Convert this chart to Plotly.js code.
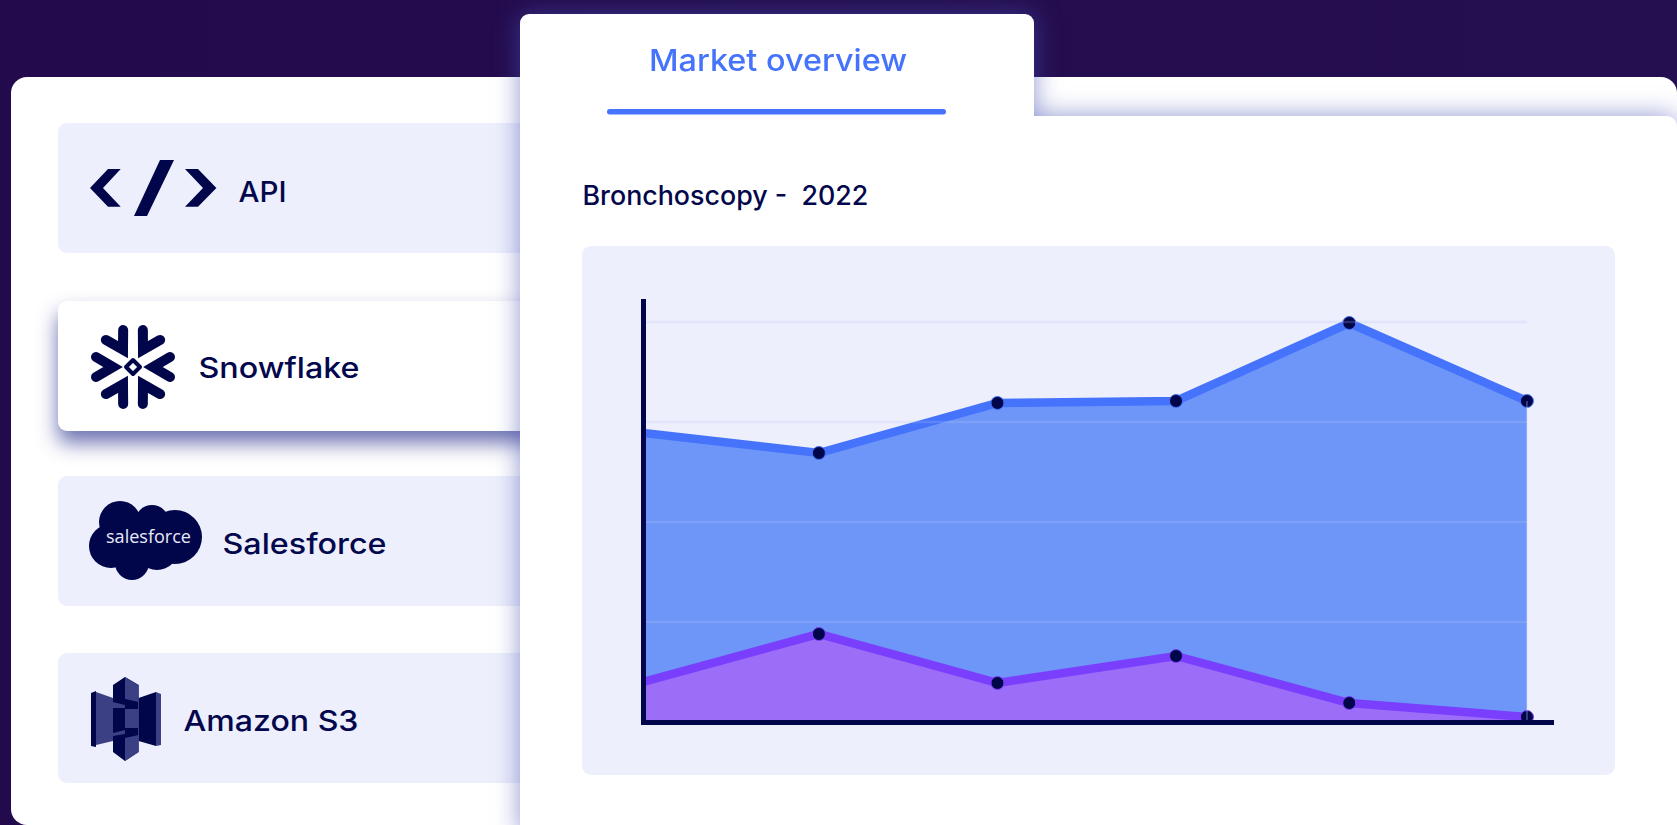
<!DOCTYPE html>
<html><head><meta charset="utf-8">
<script src="https://cdn.plot.ly/plotly-3.0.0.min.js"></script>
<style>
html,body{margin:0;padding:0;width:1677px;height:825px;overflow:hidden;font-family:Inter,sans-serif}
html{background:linear-gradient(90deg,#220a4d,#260f50)}
#page{position:absolute;left:0;top:0;width:1677px;height:825px;filter:blur(.4px)}
.abs{position:absolute}
.row{position:absolute;left:58px;width:560px;height:130px;border-radius:9px;background:#edeffc}
svg text{font-family:Inter,sans-serif;font-weight:500;fill:#03074c}
</style></head><body><div id="page">
<div class="abs" style="left:11px;top:76.5px;width:1666px;height:748.5px;background:#fff;border-radius:16px"></div>
<div class="row" style="top:123px"></div>
<div class="row" style="top:301px;background:#fff;box-shadow:0 12px 20px rgba(40,48,140,.68)"></div>
<div class="row" style="top:476px"></div>
<div class="row" style="top:653px"></div>
<svg class="abs" style="left:0;top:0" width="1677" height="825" viewBox="0 0 1677 825">
  <g fill="#01054a">
    <polygon points="90,188 108,169 120.7,169 103,188 120.7,206.7 108,206.7"/>
    <polygon points="160,160 174,160 147,216 134,216"/>
    <polygon points="185,169 198,169 216.4,188 198,206.7 185,206.7 203,188"/>
  </g>
  <text x="238.5" y="201.7" font-size="29" textLength="48" lengthAdjust="spacingAndGlyphs">API</text>
  <g fill="none" stroke="#01054a" stroke-width="10" stroke-linecap="round" stroke-linejoin="miter">
    <path d="M96 357 L113 367 L96 377"/>
    <path transform="rotate(60 133 367)" d="M96 357 L113 367 L96 377"/>
    <path transform="rotate(120 133 367)" d="M96 357 L113 367 L96 377"/>
    <path transform="rotate(180 133 367)" d="M96 357 L113 367 L96 377"/>
    <path transform="rotate(240 133 367)" d="M96 357 L113 367 L96 377"/>
    <path transform="rotate(300 133 367)" d="M96 357 L113 367 L96 377"/>
  </g>
  <polygon points="133,360 140,367 133,374 126,367" fill="#fff" stroke="#01054a" stroke-width="4" stroke-linejoin="round"/>
  <text x="198.5" y="377.7" font-size="29" textLength="161" lengthAdjust="spacingAndGlyphs">Snowflake</text>
  <g fill="#01054a">
    <circle cx="120" cy="522" r="21"/><circle cx="152" cy="522" r="17"/><circle cx="175" cy="537" r="27"/>
    <circle cx="111" cy="546" r="22"/><circle cx="132" cy="563" r="17"/><circle cx="157" cy="548" r="22"/>
    <rect x="110" y="520" width="60" height="40"/>
  </g>
  <text x="106" y="543" font-size="19" textLength="85" lengthAdjust="spacingAndGlyphs" style="font-family:'Open Sans';font-weight:400;fill:#e8eaf8">salesforce</text>
  <text x="222.5" y="554" font-size="29" textLength="164" lengthAdjust="spacingAndGlyphs">Salesforce</text>
  <g fill="#01054a">
    <polygon points="113,685 125,677 138.6,685 138.6,752 125,761 113,752"/>
    <polygon points="91,693 96,691 96,747 91,746"/>
    <polygon points="138.6,698 156,692 156,746 138.6,741"/>
  </g>
  <g fill="#3a4083">
    <polygon points="96,692 113,698 113,741 96,745"/>
    <polygon points="156,692 161,694 161,745 156,746"/>
    <polygon points="125,677 138.6,685 138.6,702 125,699"/>
    <polygon points="113,702 125,705 125,708 113,708"/>
    <polygon points="125,709 138.6,709 138.6,728 125,728"/>
    <polygon points="113,733 125,730 125,734 113,736"/>
    <polygon points="125,738 138.6,735 138.6,752 125,761"/>
  </g>
  <text x="183.5" y="731" font-size="29" textLength="175" lengthAdjust="spacingAndGlyphs">Amazon S3</text>
</svg>
<div class="abs" style="left:0;top:0;width:1677px;height:825px;filter:drop-shadow(0 0 13px rgba(70,80,180,.6))">
  <div class="abs" style="left:519.5px;top:14px;width:514px;height:200px;background:#fff;border-radius:9px"></div>
  <div class="abs" style="left:519.5px;top:116px;width:1157.5px;height:720px;background:#fff;border-radius:10px"></div>
</div>
<svg class="abs" style="left:0;top:0" width="1677" height="825" viewBox="0 0 1677 825">
  <text x="649" y="71" font-size="30" textLength="258" lengthAdjust="spacingAndGlyphs" style="fill:#4573fb">Market overview</text>
  <rect x="607" y="109" width="339" height="5.4" rx="2.7" fill="#4573fb"/>
</svg>
<div class="abs" style="left:582px;top:246px;width:1033px;height:529px;background:#edeffc;border-radius:9px"></div>
<div id="chart" class="abs" style="left:582px;top:170px;width:1033px;height:605px"></div>
</div>
<script>
const periods = [0, 0.995, 2.005, 3.015, 3.995, 5];
const blueValues = [72.25, 67.25, 79.75, 80.25, 99.75, 80.25];
const purpleValues = [10, 22, 9.75, 16.5, 4.75, 1.25];
const gridValues = [25, 50, 75, 100];
const dotSizes = [0, 13, 13, 13, 13, 13];
const chartTitle = 'Bronchoscopy -\u00A0 2022';

const navy = '#01054a';
const series = (y, line, fill) => ({
  x: periods, y, type: 'scatter', mode: 'lines+markers', fill: 'tozeroy',
  fillcolor: fill, line: {color: line, width: 8.5, shape: 'linear'},
  marker: {color: navy, size: dotSizes, opacity: 1}, cliponaxis: false, hoverinfo: 'skip', showlegend: false
});
const data = [series(blueValues, '#4573fb', '#6e96f9'), series(purpleValues, '#7a3ffc', '#9c6ef8')];
const shapes = gridValues.map(v => ({
  type: 'line', xref: 'x', yref: 'y', x0: 0, x1: periods[periods.length - 1], y0: v, y1: v,
  layer: 'above', line: {color: 'rgba(182,198,250,0.22)', width: 2.5}
}));
shapes.push({type: 'line', xref: 'x', yref: 'y', x0: 5, x1: 5, y0: 0, y1: blueValues[5],
  layer: 'above', line: {color: 'rgba(210,222,252,0.35)', width: 1.5}});
const layout = {
  width: 1033, height: 605,
  margin: {l: 64, r: 61, t: 129, b: 55, pad: 0},
  paper_bgcolor: 'rgba(0,0,0,0)', plot_bgcolor: 'rgba(0,0,0,0)',
  title: {text: chartTitle, x: 0.0005, xref: 'container', xanchor: 'left', y: 0.958, yref: 'container', yanchor: 'middle',
    font: {family: 'Inter, sans-serif', size: 26.8, weight: 500, color: '#03074c'}, pad: {l: 0, t: 0, b: 0, r: 0}},
  xaxis: {range: [0.017, 5.153], showgrid: false, zeroline: false, showticklabels: false, ticks: '',
    showline: true, linewidth: 5, linecolor: navy, layer: 'above traces', fixedrange: true},
  yaxis: {range: [0.5, 105.75], showgrid: false, zeroline: false, showticklabels: false, ticks: '',
    showline: true, linewidth: 5, linecolor: navy, layer: 'above traces', fixedrange: true},
  shapes
};
Plotly.newPlot('chart', data, layout, {displayModeBar: false, staticPlot: true});
</script>
</body></html>
